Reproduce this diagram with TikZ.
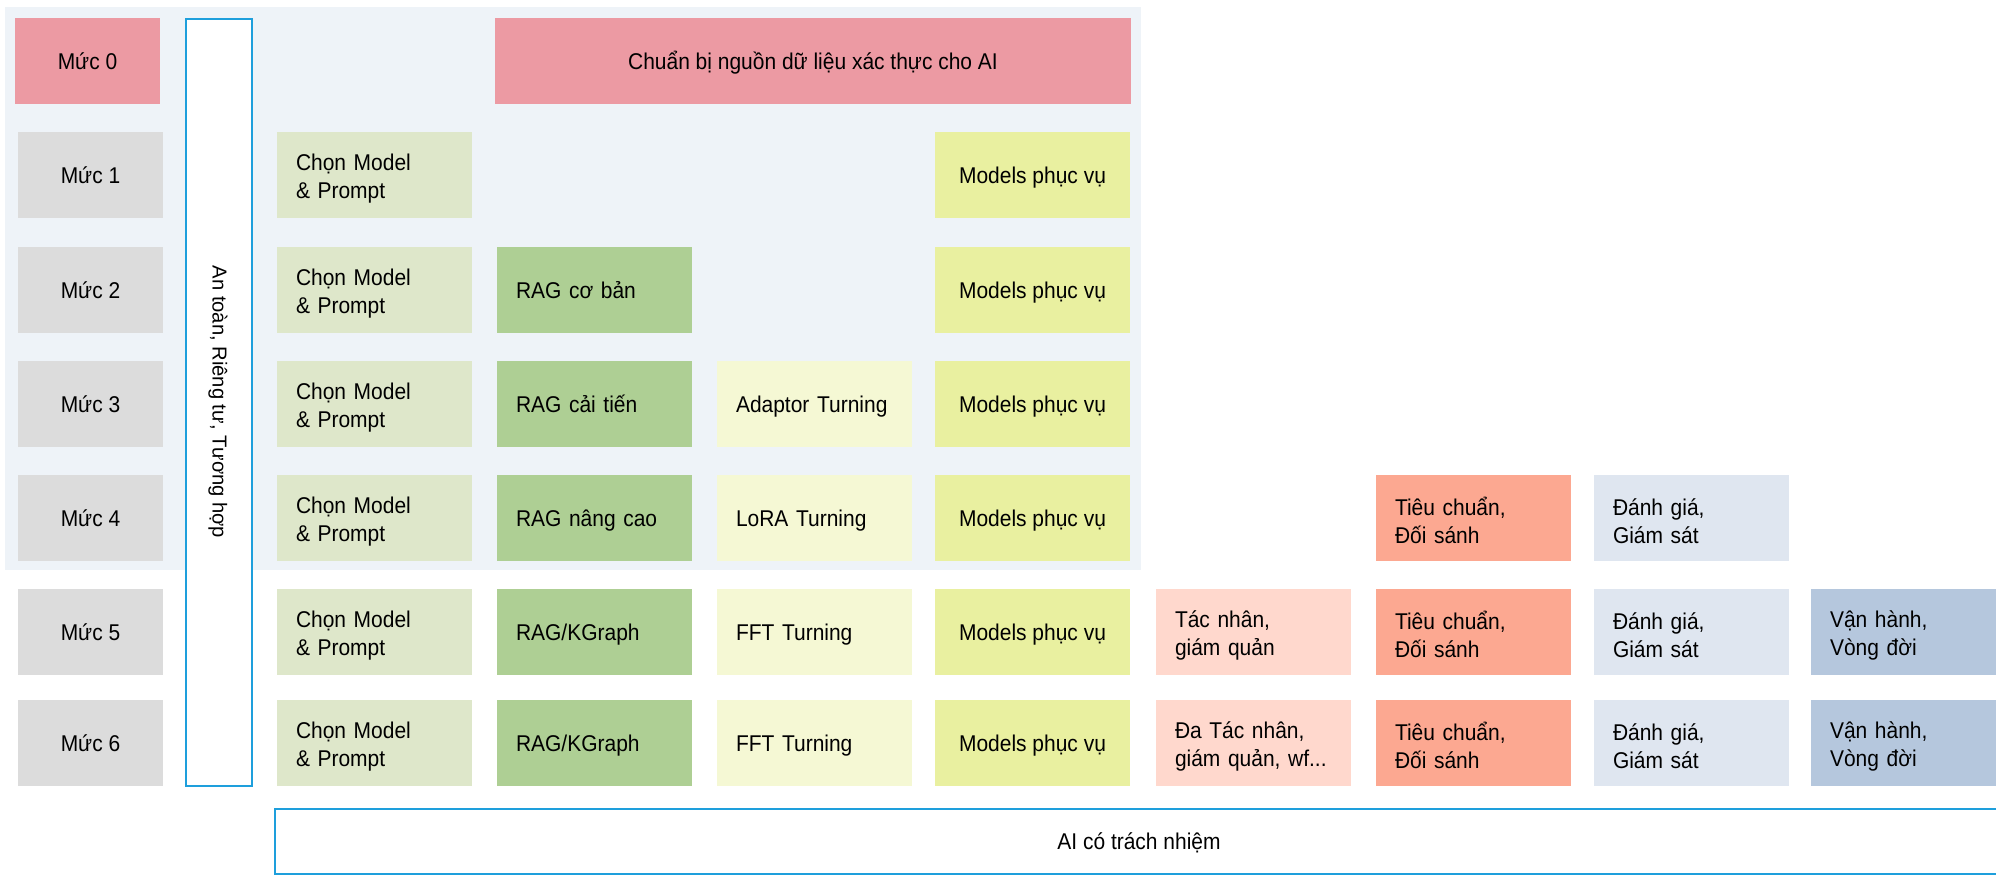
\documentclass[tikz,border=0pt]{standalone}
\usepackage{fontspec}
\setmainfont{Liberation Sans}[FakeStretch=0.92]
\newfontfamily\widefont{Liberation Sans}
\definecolor{panelbg}{HTML}{EEF3F8}
\definecolor{lvlpink}{HTML}{EC9AA3}
\definecolor{lvlgray}{HTML}{DCDCDC}
\definecolor{selgreen}{HTML}{DEE7CA}
\definecolor{raggreen}{HTML}{AECF94}
\definecolor{tunecream}{HTML}{F5F8D4}
\definecolor{serveyellow}{HTML}{E9F0A0}
\definecolor{agentpeach}{HTML}{FFD8CD}
\definecolor{stdsalmon}{HTML}{FCA891}
\definecolor{evalgray}{HTML}{DFE6F0}
\definecolor{opsblue}{HTML}{B5C7DD}
\definecolor{frameblue}{HTML}{1E9FDC}
\begin{document}
\begin{tikzpicture}[x=0.5pt,y=-0.5pt,
  cell/.style={rectangle, inner sep=0pt, minimum height=43pt,
    font=\fontsize{11.4pt}{14pt}\selectfont},
  oneline/.style={text height=10.4pt, text depth=2.24pt},
  twoline/.style={text height=11.8pt},
  lvl/.style={cell, oneline, minimum width=72.5pt, align=center, fill=lvlgray},
  lcell/.style={cell, minimum width=97.5pt, text width=78.5pt, inner xsep=9.5pt, align=left},
  ccell/.style={cell, minimum width=97.5pt, align=center},
  sel/.style={lcell, twoline, fill=selgreen},
  rag/.style={lcell, oneline, fill=raggreen},
  tune/.style={lcell, oneline, fill=tunecream},
  serve/.style={ccell, oneline, fill=serveyellow},
  agent/.style={lcell, twoline, fill=agentpeach},
  stdb/.style={lcell, twoline, fill=stdsalmon},
  evalb/.style={lcell, twoline, fill=evalgray},
  opsb/.style={lcell, twoline, fill=opsblue},
  frame/.style={draw=frameblue, line width=1pt, fill=white, inner sep=0pt}
]
\clip (0,0) rectangle (1996,876);
\useasboundingbox (0,0) rectangle (1996,876);

% light panel behind levels 0-4
\node[fill=panelbg, inner sep=0pt, minimum width=568pt, minimum height=281.5pt] (panel) at (573,288.5) {};

% level labels
\node[lvl, fill=lvlpink] (m0) at (87.5,61) {Mức 0};
\node[lvl] (m1) at (90.5,175) {Mức 1};
\node[lvl] (m2) at (90.5,290) {Mức 2};
\node[lvl] (m3) at (90.5,404) {Mức 3};
\node[lvl] (m4) at (90.5,518) {Mức 4};
\node[lvl] (m5) at (90.5,632) {Mức 5};
\node[lvl] (m6) at (90.5,743) {Mức 6};

% vertical safety band
\node[frame, minimum width=33pt, minimum height=383.5pt] (safe) at (219,402.5) {};
\node[rotate=-90, inner sep=0pt, font=\widefont\fontsize{10.1pt}{12pt}\selectfont] (safetxt) at (218,402) {An toàn, Riêng tư, Tương hợp};

% level 0
\node[ccell, oneline, fill=lvlpink, minimum width=318pt] (prep) at (813,61) {Chuẩn bị nguồn dữ liệu xác thực cho AI};

% level 1
\node[sel] (s1) at (374.5,175) {Chọn Model\\\& Prompt};
\node[serve] (v1) at (1032.5,175) {Models phục vụ};

% level 2
\node[sel] (s2) at (374.5,290) {Chọn Model\\\& Prompt};
\node[rag] (r2) at (594.5,290) {RAG cơ bản};
\node[serve] (v2) at (1032.5,290) {Models phục vụ};

% level 3
\node[sel] (s3) at (374.5,404) {Chọn Model\\\& Prompt};
\node[rag] (r3) at (594.5,404) {RAG cải tiến};
\node[tune] (t3) at (814.5,404) {Adaptor Turning};
\node[serve] (v3) at (1032.5,404) {Models phục vụ};

% level 4
\node[sel] (s4) at (374.5,518) {Chọn Model\\\& Prompt};
\node[rag] (r4) at (594.5,518) {RAG nâng cao};
\node[tune] (t4) at (814.5,518) {LoRA Turning};
\node[serve] (v4) at (1032.5,518) {Models phục vụ};
\node[stdb] (d4) at (1473.5,518) {Tiêu chuẩn,\\Đối sánh};
\node[evalb] (e4) at (1691.5,518) {Đánh giá,\\Giám sát};

% level 5
\node[sel] (s5) at (374.5,632) {Chọn Model\\\& Prompt};
\node[rag] (r5) at (594.5,632) {RAG/KGraph};
\node[tune] (t5) at (814.5,632) {FFT Turning};
\node[serve] (v5) at (1032.5,632) {Models phục vụ};
\node[agent] (a5) at (1253.5,632) {Tác nhân,\\giám quản};
\node[stdb] (d5) at (1473.5,632) {Tiêu chuẩn,\\Đối sánh};
\node[evalb] (e5) at (1691.5,632) {Đánh giá,\\Giám sát};
\node[opsb] (o5) at (1908.5,632) {Vận hành,\\Vòng đời};

% level 6
\node[sel] (s6) at (374.5,743) {Chọn Model\\\& Prompt};
\node[rag] (r6) at (594.5,743) {RAG/KGraph};
\node[tune] (t6) at (814.5,743) {FFT Turning};
\node[serve] (v6) at (1032.5,743) {Models phục vụ};
\node[agent] (a6) at (1253.5,743) {Đa Tác nhân,\\giám quản, wf...};
\node[stdb] (d6) at (1473.5,743) {Tiêu chuẩn,\\Đối sánh};
\node[evalb] (e6) at (1691.5,743) {Đánh giá,\\Giám sát};
\node[opsb] (o6) at (1908.5,743) {Vận hành,\\Vòng đời};

% responsible AI band
\node[frame, oneline, minimum width=864pt, minimum height=32.5pt, font=\fontsize{11.4pt}{14pt}\selectfont] (resp) at (1139,841.5) {AI có trách nhiệm};
\end{tikzpicture}
\end{document}
